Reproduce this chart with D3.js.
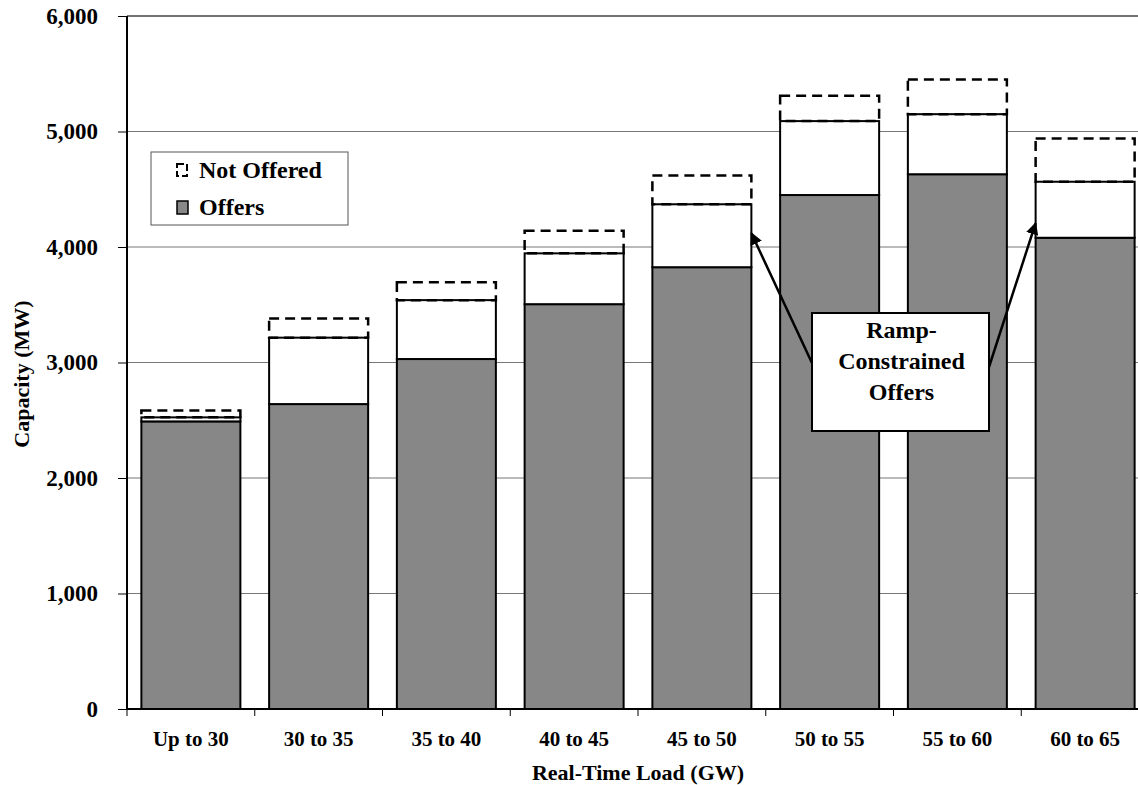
<!DOCTYPE html>
<html>
<head>
<meta charset="utf-8">
<script src="https://cdn.jsdelivr.net/npm/d3@7"></script>
<style>
  html, body { margin: 0; padding: 0; background: #fff; }
  svg { display: block; }
  text { font-family: "Liberation Serif", "Times New Roman", serif; font-weight: bold; fill: #000; }
</style>
</head>
<body>
<svg id="chart" width="1138" height="785"></svg>
<script>
// ---- data ----
const categories = ["Up to 30", "30 to 35", "35 to 40", "40 to 45", "45 to 50", "50 to 55", "55 to 60", "60 to 65"];
const offers = [2490, 2640, 3030, 3505, 3825, 4450, 4630, 4080];
const rampConstrained = [35, 575, 510, 440, 545, 640, 520, 485];
const notOffered = [60, 165, 155, 195, 250, 220, 300, 375];
const yTicks = [0, 1000, 2000, 3000, 4000, 5000, 6000];
const legendLabels = ["Not Offered", "Offers"];
const annotationLines = ["Ramp-", "Constrained", "Offers"];
const annotationTargets = ["45 to 50", "60 to 65"];

// ---- layout ----
const svg = d3.select("#chart");
const pLeft = 127, pRight = 1149, pTop = 16, pBottom = 709;

const x = d3.scaleBand().domain(categories).range([pLeft, pRight])
  .paddingInner(0.225).paddingOuter(0.1125);
const y = d3.scaleLinear().domain([0, 6000]).range([pBottom, pTop]);

const offerFill = "#878787";

// gridlines
svg.append("g").selectAll("line").data(yTicks.filter(d => d > 0)).join("line")
  .attr("x1", pLeft).attr("x2", 1138)
  .attr("y1", d => y(d)).attr("y2", d => y(d))
  .attr("stroke", d => d === 6000 ? "#444" : "#777").attr("stroke-width", d => d === 6000 ? 1.5 : 1);

// stacked data
const rows = categories.map((c, i) => ({
  cat: c,
  o0: 0, o1: offers[i],
  r0: offers[i], r1: offers[i] + rampConstrained[i],
  n0: offers[i] + rampConstrained[i], n1: offers[i] + rampConstrained[i] + notOffered[i]
}));

const bars = svg.append("g");
bars.selectAll("rect.off").data(rows).join("rect").attr("class", "off")
  .attr("x", d => x(d.cat)).attr("width", x.bandwidth())
  .attr("y", d => y(d.o1)).attr("height", d => y(d.o0) - y(d.o1))
  .attr("fill", offerFill).attr("stroke", "#000").attr("stroke-width", 2);
bars.selectAll("rect.ramp").data(rows).join("rect").attr("class", "ramp")
  .attr("x", d => x(d.cat)).attr("width", x.bandwidth())
  .attr("y", d => y(d.r1)).attr("height", d => y(d.r0) - y(d.r1))
  .attr("fill", "#fff").attr("stroke", "#000").attr("stroke-width", 2);
bars.selectAll("rect.not").data(rows).join("rect").attr("class", "not")
  .attr("x", d => x(d.cat)).attr("width", x.bandwidth())
  .attr("y", d => y(d.n1)).attr("height", d => y(d.n0) - y(d.n1))
  .attr("fill", "none").attr("stroke", "#000").attr("stroke-width", 2.5)
  .attr("stroke-dasharray", "10,6");

// y axis
svg.append("line").attr("x1", pLeft).attr("x2", pLeft).attr("y1", pTop).attr("y2", pBottom + 1)
  .attr("stroke", "#000").attr("stroke-width", 2);
const yAxis = svg.append("g").attr("transform", `translate(${pLeft},0)`)
  .call(d3.axisLeft(y).tickValues(yTicks).tickFormat(d3.format(",")).tickSize(9).tickPadding(20));
yAxis.select(".domain").remove();
yAxis.selectAll(".tick line").attr("stroke", "#000");
yAxis.selectAll("text").style("font-size", "23px").style("font-family", "Liberation Serif").style("font-weight", "bold");

// x axis
svg.append("line").attr("x1", pLeft).attr("x2", 1138).attr("y1", pBottom).attr("y2", pBottom)
  .attr("stroke", "#000").attr("stroke-width", 2);
const step = x.step();
const boundaries = categories.map(c => x(c) - x.paddingInner() * step / 2);
svg.append("g").selectAll("line").data(boundaries).join("line")
  .attr("x1", d => d).attr("x2", d => d).attr("y1", pBottom).attr("y2", pBottom + 7)
  .attr("stroke", "#000").attr("stroke-width", 1);
const xAxis = svg.append("g").attr("transform", `translate(0,${pBottom})`)
  .call(d3.axisBottom(x).tickSize(0).tickPadding(22));
xAxis.select(".domain").remove();
xAxis.selectAll("text").style("font-size", "21px").style("font-family", "Liberation Serif").style("font-weight", "bold");

// axis titles
svg.append("text").attr("x", 638).attr("y", 780).attr("text-anchor", "middle")
  .style("font-size", "22px").text("Real-Time Load (GW)");
svg.append("text").attr("transform", "translate(29,374) rotate(-90)").attr("text-anchor", "middle")
  .style("font-size", "22px").text("Capacity (MW)");

// legend
const lg = svg.append("g");
lg.append("rect").attr("x", 151).attr("y", 152).attr("width", 197).attr("height", 73)
  .attr("fill", "#fff").attr("stroke", "#555").attr("stroke-width", 1);
lg.append("rect").attr("x", 177).attr("y", 164).attr("width", 10).attr("height", 12)
  .attr("fill", "#fff").attr("stroke", "#000").attr("stroke-width", 2).attr("stroke-dasharray", "7,3");
lg.append("rect").attr("x", 177).attr("y", 201).attr("width", 11).attr("height", 13)
  .attr("fill", offerFill).attr("stroke", "#000").attr("stroke-width", 1.5);
lg.selectAll("text").data(legendLabels).join("text")
  .attr("x", 199).attr("y", (d, i) => 178 + i * 37)
  .style("font-size", "24px").text(d => d);

// annotation arrows
const defs = svg.append("defs");
defs.append("marker").attr("id", "arrow").attr("viewBox", "0 0 10 10")
  .attr("refX", 9).attr("refY", 5).attr("markerWidth", 5).attr("markerHeight", 5)
  .attr("markerUnits", "strokeWidth").attr("orient", "auto")
  .append("path").attr("d", "M0,0 L10,5 L0,10 z").attr("fill", "#000");

const boxL = 812, boxR = 989, boxT = 313, boxB = 431;
const t5 = rows.find(r => r.cat === annotationTargets[0]);
const t8 = rows.find(r => r.cat === annotationTargets[1]);
svg.append("line").attr("x1", boxL).attr("y1", 363)
  .attr("x2", x(t5.cat) + x.bandwidth()).attr("y2", y(t5.r0 + 0.54 * (t5.r1 - t5.r0)))
  .attr("stroke", "#000").attr("stroke-width", 2.5).attr("marker-end", "url(#arrow)");
svg.append("line").attr("x1", boxR).attr("y1", 367)
  .attr("x2", x(t8.cat)).attr("y2", y(t8.r0 + 0.26 * (t8.r1 - t8.r0)))
  .attr("stroke", "#000").attr("stroke-width", 2.5).attr("marker-end", "url(#arrow)");

svg.append("rect").attr("x", boxL).attr("y", boxT).attr("width", boxR - boxL).attr("height", boxB - boxT)
  .attr("fill", "#fff").attr("stroke", "#000").attr("stroke-width", 2);
svg.append("g").selectAll("text").data(annotationLines).join("text")
  .attr("x", (boxL + boxR) / 2 + 1).attr("y", (d, i) => 338 + i * 31).attr("text-anchor", "middle")
  .style("font-size", "24px").text(d => d);
</script>
</body>
</html>
